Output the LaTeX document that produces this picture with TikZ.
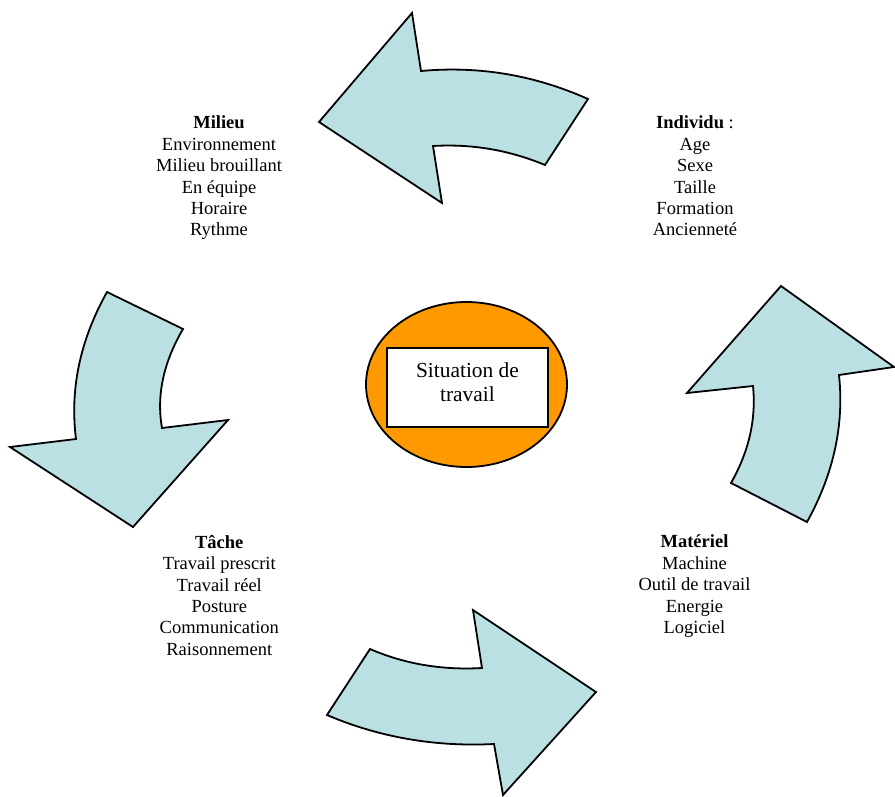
\documentclass[tikz,border=0pt]{standalone}
\usepackage{fontspec}
\setmainfont{Liberation Serif}
\usetikzlibrary{shapes.geometric}
\definecolor{arrowfill}{RGB}{187,224,227}
\definecolor{orangefill}{RGB}{255,153,0}
\begin{document}
\begin{tikzpicture}[x=1pt,y=-1pt,
  bigarrow/.style={fill=arrowfill, draw=black, line width=1.8pt, line join=miter},
  txt/.style={font=\fontsize{18.5}{21.4}\selectfont, align=center, inner sep=0pt, anchor=north}]
\useasboundingbox (0,0) rectangle (895,796);
% top arrow (pointing left)
\draw[bigarrow] (319,122) -- (412,13) -- (421,71)
  .. controls (478.7,65.7) and (534.3,75) .. (588,99) -- (545,165)
  .. controls (509,150) and (471.7,143.7) .. (433,146) -- (442,203) -- cycle;
% right arrow (pointing up)
\draw[bigarrow] (781,286) -- (894,367) -- (839,375)
  .. controls (844.3,424.7) and (833.7,473.7) .. (807,522) -- (731,483)
  .. controls (749,451.3) and (756.3,419) .. (753,386) -- (687,393) -- cycle;
% left arrow (pointing down)
\draw[bigarrow] (107,292) -- (183,329)
  .. controls (163.3,362.7) and (156.3,395.7) .. (162,428) -- (228,420) -- (133,527) -- (10,447) -- (76,439)
  .. controls (69.7,389.3) and (80,340.3) .. cycle;
% bottom arrow (pointing right)
\draw[bigarrow] (370,649) .. controls (404.7,664) and (442,670.3) .. (482,668) -- (473,610) -- (596,692)
  -- (503,795) -- (494,744) .. controls (435,747) and (379.3,737.3) .. (327,715) -- cycle;
% centre
\node[ellipse, draw=black, fill=orangefill, line width=1.8pt, minimum width=201pt, minimum height=165pt, inner sep=0pt] (ell) at (466.5,384.5) {};
\node[rectangle, draw=black, fill=white, line width=1.8pt, minimum width=161pt, minimum height=79pt, inner sep=0pt] (box) at (467.5,387.5) {};
\node[font=\fontsize{21.4}{24.4}\selectfont, align=center, inner sep=0pt] (sit) at (467.5,382.2) {Situation de\\travail};
% texts
\node[txt] (milieu) at (219,115.8) {\textbf{Milieu}\\Environnement\\Milieu brouillant\\En équipe\\Horaire\\Rythme};
\node[txt] (individu) at (695,115.8) {\textbf{Individu} :\\Age\\Sexe\\Taille\\Formation\\Ancienneté};
\node[txt] (tache) at (219.3,535) {\textbf{Tâche}\\Travail prescrit\\Travail réel\\Posture\\Communication\\Raisonnement};
\node[txt] (materiel) at (694.5,534.8) {\textbf{Matériel}\\Machine\\Outil de travail\\Energie\\Logiciel};
\end{tikzpicture}
\end{document}
